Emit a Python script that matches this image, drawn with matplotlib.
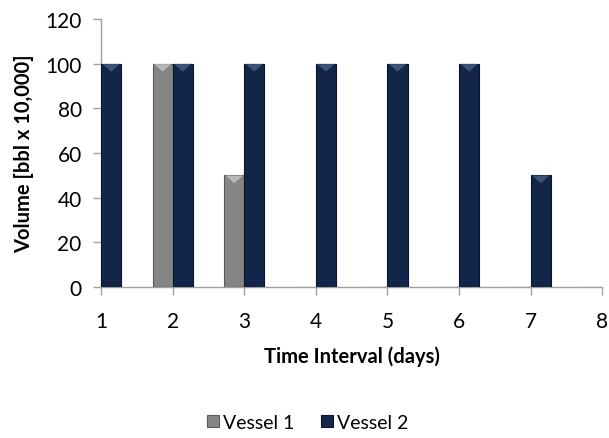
import matplotlib.pyplot as plt
from matplotlib.patches import Polygon
import numpy as np

plt.rcParams['font.family'] = ['Lato', 'DejaVu Sans']

# data
days = np.array([1, 2, 3, 4, 5, 6, 7, 8])
vessel1 = [0, 100, 50, 0, 0, 0, 0, 0]
vessel2 = [100, 100, 100, 100, 100, 100, 50, 0]

w = 0.28  # lebar bar

fig = plt.figure(figsize=(6.09, 4.39), dpi=100)
ax = fig.add_axes([0.166, 0.344, 0.823, 0.610])

b1 = ax.bar(days - w/2, vessel1, width=w, color='#858585', edgecolor='#5a5a5a',
            linewidth=0.8, label='Vessel 1', zorder=3)
b2 = ax.bar(days + w/2, vessel2, width=w, color='#13264a', edgecolor='#0a1528',
            linewidth=0.8, label='Vessel 2', zorder=3)

# efek bevel di atas bar (segitiga terang)
for bars, hl in [(b1, '#c8c8c8'), (b2, '#4a6288')]:
    for r in bars:
        h = r.get_height()
        if h <= 0:
            continue
        x0, bw = r.get_x(), r.get_width()
        dh = 3.5
        tri = Polygon([(x0 + bw*0.06, h), (x0 + bw*0.94, h),
                       (x0 + bw*0.5, h - dh)], closed=True,
                      facecolor=hl, edgecolor='none', alpha=0.75, zorder=4)
        ax.add_patch(tri)

ax.set_xlim(1, 8)
ax.set_ylim(0, 120)
ax.set_xticks(days)
ax.set_yticks(np.arange(0, 121, 20))

for s in ['top', 'right']:
    ax.spines[s].set_visible(False)
for s in ['left', 'bottom']:
    ax.spines[s].set_color('#a0a0a0')
    ax.spines[s].set_linewidth(1.0)
ax.tick_params(axis='both', colors='#a0a0a0', labelcolor='black',
               labelsize=15, length=6, width=1.0, direction='out')
ax.tick_params(axis='x', pad=11.5)
ax.tick_params(axis='y', pad=8)

ax.set_xlabel('Time Interval (days)', fontsize=14.5, fontweight='bold', labelpad=10)
ax.set_ylabel('Volume [bbl x 10,000]', fontsize=14.5, fontweight='bold', labelpad=8)

ax.legend(loc='center', bbox_to_anchor=(0.505, 0.035), bbox_transform=fig.transFigure,
          ncol=2, frameon=False, fontsize=14, handlelength=0.6, handleheight=0.6,
          handletextpad=0.2, columnspacing=1.4)

plt.savefig('out.png', dpi=100)
